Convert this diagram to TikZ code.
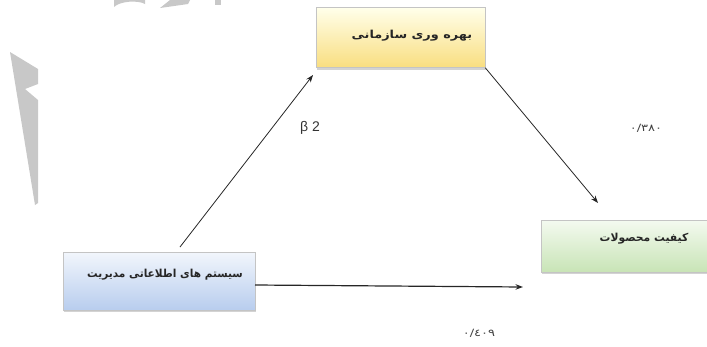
\documentclass[tikz,border=0pt]{standalone}
\usepackage{fontspec}
\setmainfont{Liberation Sans}
\newfontfamily\fa[Script=Arabic]{DejaVu Sans}
\TeXXeTstate=1
\usetikzlibrary{arrows.meta,shadows}
\definecolor{wm}{HTML}{C8C8C8}
\definecolor{bord}{HTML}{C4C4C4}
\tikzset{
  box/.style={rectangle, draw=bord, line width=0.6pt, inner sep=0pt,
    drop shadow={shadow xshift=0.8pt, shadow yshift=-2.2pt, opacity=0.35}},
  conn/.style={draw=black!85, line width=0.8pt, -{Stealth[length=7.5pt,width=5.5pt]}},
  fatxt/.style={font=\fa\bfseries\fontsize{11}{13}\selectfont, text=black!85},
  numtxt/.style={font=\fa\fontsize{10}{11}\selectfont, text=black!75, xscale=1.3}
}
\begin{document}
\begin{tikzpicture}[x=1pt,y=-1pt]
\useasboundingbox (0,0) rectangle (707,346);
% watermark pieces
\fill[wm] (10,52) -- (38,69) -- (38,84) -- (25,89) -- (38,100) -- (38,203) -- (35,205) -- cycle;
\fill[wm] (114,7) .. controls (120,1) and (138,0) .. (145,4) -- (145,0) -- (114,0) -- cycle;
\fill[wm] (160,8) -- (170,0) -- (190,0) -- (188,4) -- cycle;
\fill[wm] (215,0) -- (221,0) -- (221,5) -- (215,5) -- cycle;
% boxes
\node[box, top color=yellow!8!white, bottom color={rgb,255:red,249;green,222;blue,128},
  minimum width=169pt, minimum height=60pt] (prod) at (400.5,37.5) {};
\node[box, top color={rgb,255:red,244;green,250;blue,240}, bottom color={rgb,255:red,200;green,228;blue,182},
  minimum width=168pt, minimum height=52pt] (qual) at (625,246) {};
\node[box, top color={rgb,255:red,242;green,246;blue,252}, bottom color={rgb,255:red,184;green,205;blue,238},
  minimum width=192pt, minimum height=58pt] (mis) at (159,281) {};
% texts
\node[fatxt, xscale=1.17] (tprod) at (412,36) {\beginR بهره وری سازمانی\endR};
\node[fatxt, xscale=0.98] (tqual) at (644,239) {\beginR کیفیت محصولات\endR};
\node[fatxt, xscale=0.96] (tmis) at (165,275) {\beginR سیستم های اطلاعاتی مدیریت\endR};
% connectors
\coordinate (a1s) at (180,247);
\coordinate (a1e) at (313,75);
\coordinate (a2e) at (598,203);
\coordinate (a3s) at (255,285);
\coordinate (a3e) at (523,287);
\draw[conn] (a1s) -- (a1e);
\draw[conn] (prod.south east) -- (a2e);
\draw[conn, line width=1.2pt] (a3s) -- (a3e);
% labels
\node[font=\fontsize{14}{16}\selectfont, text=black!80] (beta) at (310,128) {β 2};
\node[numtxt] (n1) at (646,128) {٠/٣٨٠};
\node[numtxt] (n2) at (479,333) {٠/٤٠٩};
\end{tikzpicture}
\end{document}
